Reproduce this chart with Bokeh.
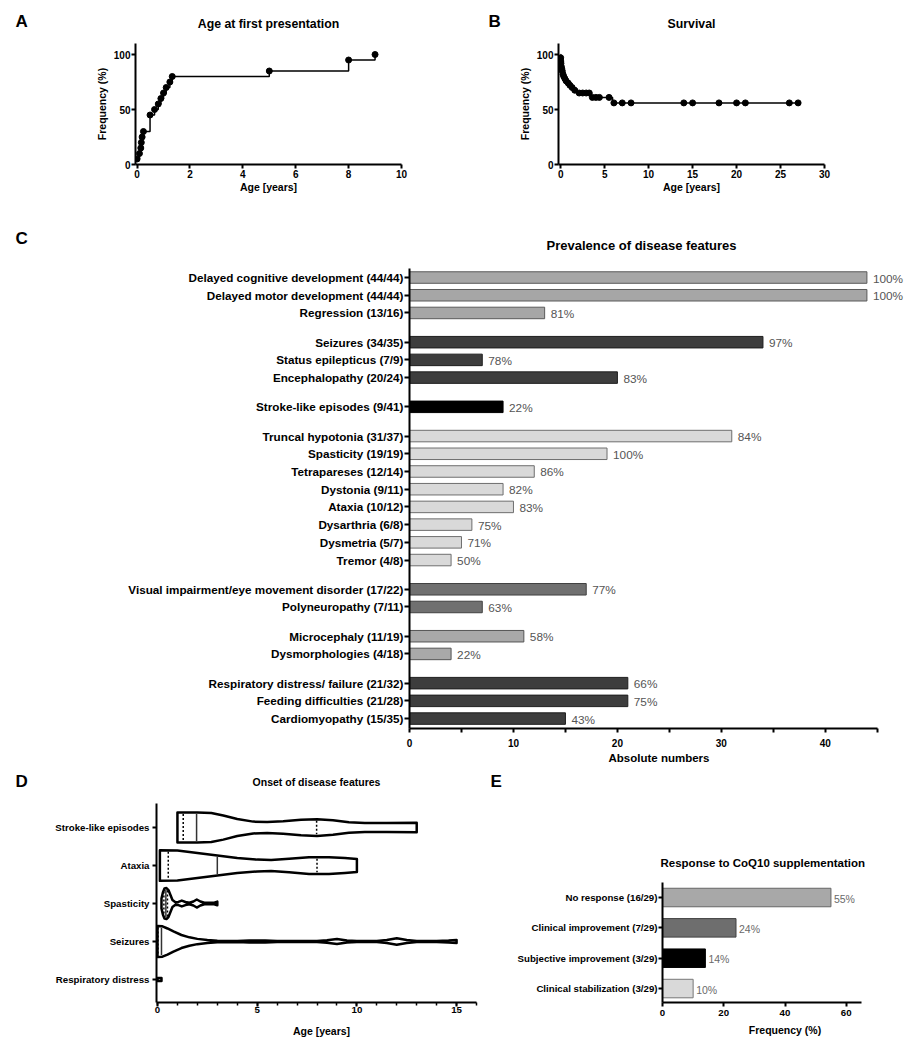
from bokeh.plotting import figure
from bokeh.layouts import column, row
from bokeh.models import Range1d, FixedTicker
from bokeh.embed import file_html
from bokeh.resources import INLINE
from bokeh.core.properties import value
import numpy as np

FONT = "Liberation Sans"

# ---------------- Panel A: age at first presentation (cumulative) ----------------
a_age = [0.0, 0.09, 0.14, 0.16, 0.19, 0.24, 0.49, 0.66, 0.8, 0.9, 1.0, 1.1, 1.24, 1.33, 5.0, 8.0, 9.0]
a_freq = [5, 10, 15, 20, 25, 30, 45, 50, 55, 60, 65, 70, 75, 80, 85, 95, 100]

# ---------------- Panel B: survival (Kaplan-Meier) ----------------
b_step_t = [0.0, 0.02, 0.05, 0.1, 0.15, 0.22, 0.3, 0.42, 0.55, 0.75, 0.95, 1.2, 1.55, 1.8, 3.4, 5.9, 27.0]
b_step_s = [100, 95, 91, 88, 86, 83, 81, 79, 77, 75, 72, 70, 67.5, 65, 61, 56, 56]
b_cens_t = [0.0, 0.01, 0.03, 0.07, 0.12, 0.18, 0.26, 0.35, 0.48, 0.62, 0.85, 1.05, 1.3, 1.6,
            2.1, 2.5, 2.9, 3.25, 3.6, 4.0, 4.4, 5.5, 6.05, 7.0, 8.0, 14, 15, 18, 20, 21, 26, 27]
b_cens_s = [97, 94, 92, 89, 87, 85, 82, 80, 78, 76, 74, 72, 70, 67.5,
            65, 65, 65, 65, 61, 61, 61, 61, 56, 56, 56, 56, 56, 56, 56, 56, 56, 56]

# ---------------- Panel C: prevalence of disease features ----------------
c_labels = ["Delayed cognitive development (44/44)", "Delayed motor development (44/44)",
            "Regression (13/16)", "Seizures (34/35)", "Status epilepticus (7/9)",
            "Encephalopathy (20/24)", "Stroke-like episodes (9/41)", "Truncal hypotonia (31/37)",
            "Spasticity (19/19)", "Tetrapareses (12/14)", "Dystonia (9/11)", "Ataxia (10/12)",
            "Dysarthria (6/8)", "Dysmetria (5/7)", "Tremor (4/8)",
            "Visual impairment/eye movement disorder (17/22)", "Polyneuropathy (7/11)",
            "Microcephaly (11/19)", "Dysmorphologies (4/18)",
            "Respiratory distress/ failure (21/32)", "Feeding difficulties (21/28)",
            "Cardiomyopathy (15/35)"]
c_counts = [44, 44, 13, 34, 7, 20, 9, 31, 19, 12, 9, 10, 6, 5, 4, 17, 7, 11, 4, 21, 21, 15]
c_pct = ["100%", "100%", "81%", "97%", "78%", "83%", "22%", "84%", "100%", "86%", "82%",
         "83%", "75%", "71%", "50%", "77%", "63%", "58%", "22%", "66%", "75%", "43%"]
c_group = [0, 0, 0, 1, 1, 1, 2, 3, 3, 3, 3, 3, 3, 3, 3, 4, 4, 5, 5, 6, 6, 6]

# ---------------- Panel D: onset of disease features (violins) ----------------
d_cats = ["Stroke-like episodes", "Ataxia", "Spasticity", "Seizures", "Respiratory distress"]
d_age = [
    [1.0, 2.0, 2.7, 3.3, 4.0, 4.8, 5.5, 6.3, 7.2, 8.0, 8.8, 9.6, 10.4, 11.5, 13.0],
    [0.12, 1.0, 2.0, 3.0, 4.0, 5.0, 5.7, 6.6, 7.6, 8.6, 9.4, 10.0],
    [0.2, 0.27, 0.35, 0.45, 0.55, 0.65, 0.75, 0.9, 1.05, 1.22, 1.4, 1.6, 1.8, 1.97, 2.15,
     2.35, 2.6, 2.85, 3.0],
    [0.0, 0.25, 0.5, 0.8, 1.2, 1.6, 2.0, 2.5, 3.0, 4.0, 4.6, 5.0, 5.4, 6.0, 8.0, 8.5, 9.0,
     9.5, 10.0, 11.0, 11.5, 12.0, 12.5, 13.0, 14.0, 14.6, 15.0],
    [0.0, 0.2],
]
d_density = [
    [0.97, 0.97, 0.94, 0.78, 0.55, 0.38, 0.36, 0.40, 0.50, 0.54, 0.47, 0.34, 0.29, 0.29, 0.30],
    [0.99, 0.97, 0.81, 0.65, 0.48, 0.38, 0.36, 0.44, 0.54, 0.54, 0.48, 0.42],
    [0.32, 0.71, 0.97, 1.0, 0.87, 0.55, 0.23, 0.08, 0.10, 0.19, 0.10, 0.05, 0.13, 0.26, 0.13,
     0.05, 0.045, 0.05, 0.12],
    [1.0, 0.98, 0.84, 0.65, 0.42, 0.27, 0.17, 0.10, 0.05, 0.03, 0.06, 0.07, 0.06, 0.03, 0.03,
     0.08, 0.16, 0.06, 0.03, 0.03, 0.10, 0.21, 0.10, 0.03, 0.03, 0.06, 0.10],
    [0.1, 0.1],
]
d_median = [1.96, 3.0, 0.42, 0.2, None]
d_quartiles = [[1.29, 7.98], [0.54, 8.0], [0.32, 0.5], [0.02], []]

# ---------------- Panel E: response to CoQ10 ----------------
e_labels = ["No response (16/29)", "Clinical improvement (7/29)",
            "Subjective improvement (3/29)", "Clinical stabilization (3/29)"]
e_vals = [55, 24, 14, 10]
e_pct = ["55%", "24%", "14%", "10%"]


def base_fig(w, h, xr, yr, bl, br, bt, bb):
    p = figure(width=w, height=h, x_range=xr, y_range=yr, output_backend="svg",
               toolbar_location=None, min_border_left=bl, min_border_right=br,
               min_border_top=bt, min_border_bottom=bb)
    p.frame_align = False
    p.xgrid.visible = False
    p.ygrid.visible = False
    p.outline_line_color = None
    p.background_fill_color = "white"
    p.border_fill_color = "white"
    return p


def text_fig(w, h, items):
    """A bare strip holding panel letters / headings as text."""
    p = figure(width=w, height=h, x_range=Range1d(0, w), y_range=Range1d(h, 0),
               output_backend="svg", toolbar_location=None, x_axis_type=None,
               y_axis_type=None, min_border=0)
    p.frame_align = False
    p.grid.visible = False
    p.outline_line_color = None
    for (txt, tx, ty, size, align) in items:
        p.text(x=[tx], y=[ty], text=[txt], text_font=value(FONT), text_font_style="bold",
               text_font_size=size, text_baseline="middle", text_align=align,
               text_color="black")
    return p


def style_axes(p, tick_size="10px", label_size="10.5px"):
    for ax in p.axis:
        ax.axis_line_width = 2
        ax.axis_line_color = "black"
        ax.major_tick_line_width = 2
        ax.major_tick_line_color = "black"
        ax.major_tick_out = 4
        ax.major_tick_in = 0
        ax.minor_tick_line_color = None
        ax.major_label_text_font = FONT
        ax.major_label_text_font_style = "bold"
        ax.major_label_text_font_size = tick_size
        ax.major_label_text_color = "black"
        ax.major_label_standoff = 1
        ax.axis_label_text_font = FONT
        ax.axis_label_text_font_style = "bold"
        ax.axis_label_text_font_size = label_size
        ax.axis_label_text_color = "black"
        ax.axis_label_standoff = 3


def set_title(p, text, size, align="center", standoff=10, offset=0):
    p.title.text = text
    p.title.align = align
    p.title.text_font = FONT
    p.title.text_font_size = size
    p.title.text_font_style = "bold"
    p.title.text_color = "black"
    p.title.standoff = standoff
    p.title.offset = offset


# ---- A ----
pa = base_fig(425, 208, Range1d(-0.06, 10.0), Range1d(0, 110), 102, 57, 43, 44)
pa.step(a_age, a_freq, mode="after", line_color="black", line_width=1.5)
pa.scatter(a_age, a_freq, size=6, color="black")
style_axes(pa)
pa.xaxis.ticker = FixedTicker(ticks=[0, 2, 4, 6, 8, 10])
pa.yaxis.ticker = FixedTicker(ticks=[0, 50, 100])
pa.xaxis.bounds = (-0.06, 10)
pa.xaxis.axis_label = "Age [years]"
pa.xaxis.axis_label_standoff = 0
pa.yaxis.axis_label = "Frequency (%)"
set_title(pa, "Age at first presentation", "12.3px", standoff=25)

# ---- B ----
pb = base_fig(403, 208, Range1d(-0.25, 30.0), Range1d(0, 110), 53, 84, 43, 44)
pb.step(b_step_t, b_step_s, mode="after", line_color="black", line_width=1.5)
pb.scatter(b_cens_t, b_cens_s, size=6, color="black")
style_axes(pb)
pb.xaxis.ticker = FixedTicker(ticks=[0, 5, 10, 15, 20, 25, 30])
pb.yaxis.ticker = FixedTicker(ticks=[0, 50, 100])
pb.xaxis.bounds = (-0.25, 30)
pb.xaxis.axis_label = "Age [years]"
pb.xaxis.axis_label_standoff = 0
pb.yaxis.axis_label = "Frequency (%)"
set_title(pb, "Survival", "12.3px", standoff=25)

# ---- C ----
GAP = 0.65
c_pos = []
yy = 0.0
for i, g in enumerate(c_group):
    if i > 0:
        yy += 1.0 + (GAP if g != c_group[i - 1] else 0.0)
    c_pos.append(round(yy, 3))

c_fill = {0: "#a6a6a6", 1: "#3d3d3d", 2: "#000000", 3: "#d9d9d9", 4: "#707070", 5: "#a9a9a9", 6: "#3d3d3d"}
c_line = {0: "#5a5a5a", 1: "#1e1e1e", 2: "#000000", 3: "#6e6e6e", 4: "#404040", 5: "#555555", 6: "#1e1e1e"}

pc = base_fig(875, 560, Range1d(0, 48), Range1d(25.46, -0.51), 376, 0, 60, 40)
pc.hbar(y=c_pos, left=0, right=c_counts, height=0.65,
        fill_color=[c_fill[g] for g in c_group], line_color=[c_line[g] for g in c_group],
        line_width=1)
pc.text(x=c_counts, y=c_pos, text=c_pct, x_offset=6, y_offset=1, text_baseline="middle",
        text_font=value(FONT), text_font_size="11.8px", text_color="#555555")
style_axes(pc, tick_size="10px", label_size="11.5px")
pc.xaxis.major_label_standoff = 6
pc.xaxis.axis_label_standoff = 2
pc.yaxis.ticker = FixedTicker(ticks=c_pos)
pc.yaxis.major_label_overrides = {pp: lab for pp, lab in zip(c_pos, c_labels)}
pc.yaxis.major_label_text_font_size = "11.7px"
pc.yaxis.major_tick_out = 5
pc.xaxis.ticker = FixedTicker(ticks=[0, 10, 20, 30, 40], minor_ticks=[5, 15, 25, 35, 45])
pc.xaxis.minor_tick_line_color = "black"
pc.xaxis.minor_tick_line_width = 2
pc.xaxis.minor_tick_out = 4
pc.xaxis.minor_tick_in = 0
pc.xaxis.bounds = (0, 45)
pc.xaxis.axis_label = "Absolute numbers"
set_title(pc, "Prevalence of disease features", "13px", align="left", standoff=32, offset=137)

# ---- D ----
ROW_HW = 0.408
pd_ = base_fig(488, 258, Range1d(-0.05, 16.5), Range1d(4.605, -0.632), 156, 2, 13, 46)
xs, ys = [], []
for i in range(len(d_cats)):
    ages = np.array(d_age[i], dtype=float)
    hw = np.array(d_density[i], dtype=float) * ROW_HW
    xs.append(list(ages) + list(ages[::-1]))
    ys.append(list(i - hw) + list((i + hw)[::-1]))
pd_.patches(xs, ys, fill_color="white", line_color="black", line_width=2.5, line_join="round")
for i in range(len(d_cats)):
    ages = np.array(d_age[i], dtype=float)
    hw = np.array(d_density[i], dtype=float) * ROW_HW
    for q in d_quartiles[i]:
        h = float(np.interp(q, ages, hw))
        pd_.segment(x0=[q], y0=[i - h + 0.04], x1=[q], y1=[i + h - 0.04], line_color="black",
                    line_width=1.5, line_dash="2 2")
    if d_median[i] is not None:
        m = d_median[i]
        h = float(np.interp(m, ages, hw))
        pd_.segment(x0=[m], y0=[i - h + 0.04], x1=[m], y1=[i + h - 0.04], line_color="#333333",
                    line_width=1.5)
style_axes(pd_, tick_size="9.7px", label_size="10.5px")
pd_.yaxis.major_label_standoff = 3
pd_.xaxis.major_label_standoff = 0
pd_.yaxis.ticker = FixedTicker(ticks=list(range(len(d_cats))))
pd_.yaxis.major_label_overrides = {i: c for i, c in enumerate(d_cats)}
pd_.xaxis.ticker = FixedTicker(ticks=[0, 5, 10, 15], minor_ticks=list(range(0, 17)))
pd_.xaxis.minor_tick_line_color = "black"
pd_.xaxis.minor_tick_line_width = 1.5
pd_.xaxis.minor_tick_out = 3
pd_.xaxis.minor_tick_in = 0
pd_.xaxis.bounds = (-0.05, 16)
pd_.xaxis.axis_label = "Age [years]"
pd_.xaxis.axis_label_standoff = 9

# ---- E ----
e_fill = ["#a8a8a8", "#6e6e6e", "#000000", "#d9d9d9"]
e_line = ["#666666", "#404040", "#000000", "#777777"]
e_pos = list(range(len(e_labels)))
pe = base_fig(394, 280, Range1d(0, 80), Range1d(3.46, -0.495), 145, 1, 114, 46)
pe.hbar(y=e_pos, left=0, right=e_vals, height=0.61, fill_color=e_fill, line_color=e_line,
        line_width=1)
pe.text(x=e_vals, y=e_pos, text=e_pct, x_offset=3, y_offset=1, text_baseline="middle",
        text_font=value(FONT), text_font_size="10.5px", text_color="#6a6a6a")
style_axes(pe, tick_size="9.7px", label_size="10.5px")
pe.xaxis.major_label_standoff = 3
pe.yaxis.ticker = FixedTicker(ticks=e_pos)
pe.yaxis.major_label_overrides = {i: c for i, c in enumerate(e_labels)}
pe.xaxis.ticker = FixedTicker(ticks=[0, 20, 40, 60])
pe.xaxis.bounds = (0, 65)
pe.xaxis.axis_label = "Frequency (%)"
pe.xaxis.axis_label_standoff = 5
set_title(pe, "Response to CoQ10 supplementation", "11.5px", align="left", standoff=27, offset=-2)

la = text_fig(33, 208, [("A", 15, 21, "17px", "left")])
lb = text_fig(47, 208, [("B", 30, 21, "17px", "left")])
lc = text_fig(33, 560, [("C", 15, 30, "17px", "left")])
hd = text_fig(488, 22, [("D", 15, 13, "17px", "left"),
                        ("Onset of disease features", 316, 13, "10.5px", "center")])
le = text_fig(26, 280, [("E", 2, 13, "17px", "left")])

layout = column(row(la, pa, lb, pb), row(lc, pc), row(column(hd, pd_), le, pe))
open("out.html", "w").write(file_html(layout, INLINE))
